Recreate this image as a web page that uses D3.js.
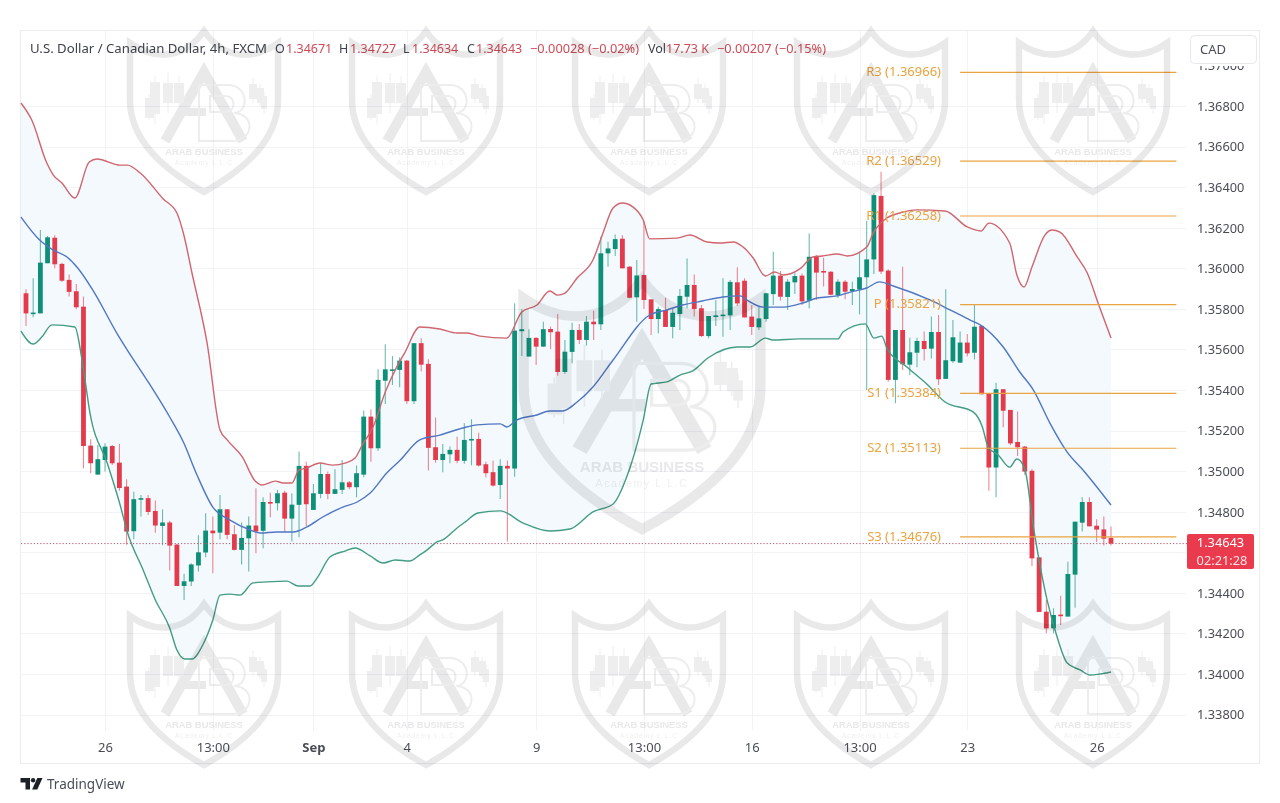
<!DOCTYPE html>
<html><head><meta charset="utf-8">
<script src="https://cdn.jsdelivr.net/npm/d3@7/dist/d3.min.js"></script>
<style>html,body{margin:0;background:#fff}svg{display:block}text{font-family:"Noto Sans",sans-serif}</style>
</head><body><div id="c"></div>
<script>
// prices are in 1e-5 units (points)
const opens=[135877,135775,135778,136025,136151,136022,135943,135887,135811,135126,134983,135055,135124,135042,134924,134704,134862,134867,134804,134730,134747,134638,134434,134456,134535,134599,134707,134697,134812,134689,134612,134669,134732,134706,134848,134842,134894,134766,134834,135026,134809,134888,134986,134888,134908,134945,134921,134983,135269,135113,135446,135497,135499,135545,135345,135631,135529,135118,135055,135083,135105,135051,135154,135159,135034,134995,134932,135026,135013,135690,135565,135657,135614,135701,135688,135489,135588,135696,135647,135737,135724,136074,136095,136146,136008,135857,135967,135847,135750,135795,135711,135775,135860,135918,135803,135666,135762,135767,135768,135931,135939,135762,135709,135750,135873,135964,135859,135931,135964,135841,136057,135987,135983,135867,135934,135888,135896,135956,136044,136357,135989,135450,135696,135525,135584,135642,135604,135686,135455,135542,135535,135634,135584,135716,135384,135018,135404,135302,135144,135121,135002,134575,134307,134225,134293,134283,134490,134746,134848,134731,134713,134671];
const highs=[135897,135951,136189,136160,136163,136028,135969,135923,135861,135157,135129,135138,135129,135134,134960,134899,134883,134883,134855,134812,134756,134641,134494,134546,134684,134793,134776,134883,134812,134735,134747,134776,134916,134871,134894,134908,134904,134891,135097,135047,134937,135039,134998,135009,135055,134952,135028,135299,135305,135502,135626,135568,135562,135548,135631,135655,135552,135264,135134,135121,135170,135236,135256,135190,135047,135052,135059,135052,135828,135798,135700,135660,135737,135713,135775,135647,135732,135726,135765,135791,136156,136131,136167,136163,136011,136041,136230,135847,135811,135855,135803,135898,136049,135970,135819,135765,135844,135951,135942,136005,135951,135819,135811,135880,136082,135987,135946,135979,135975,136172,136066,136052,135987,135946,135942,135934,136077,136235,136370,136476,135995,135696,136008,135658,135658,135688,135762,135770,135897,135745,135688,135676,135823,135721,135384,135436,135404,135302,135294,135124,135009,134575,134365,134324,134386,134554,134751,134871,134871,134763,134776,134727];
const lows=[135716,135759,135778,136025,136000,135933,135861,135798,135014,134990,134983,134998,135031,134904,134637,134664,134776,134784,134697,134635,134510,134434,134365,134434,134505,134576,134497,134664,134664,134609,134540,134505,134595,134620,134773,134806,134699,134653,134674,134730,134809,134867,134862,134888,134888,134911,134871,134970,135047,135101,135331,135425,135414,135331,135331,135491,135003,135042,134995,135039,135039,135036,135029,135023,134970,134924,134863,134653,134973,135568,135565,135524,135614,135601,135470,135479,135532,135627,135619,135647,135696,136008,136061,136000,135852,135737,135799,135671,135680,135711,135655,135696,135803,135762,135663,135655,135716,135663,135696,135814,135758,135671,135696,135737,135819,135841,135795,135873,135819,135803,135844,135910,135867,135854,135847,135819,135773,135400,135972,135972,135441,135335,135499,135474,135512,135545,135556,135425,135455,135535,135535,135565,135551,135379,134904,134871,135216,135128,135075,134981,134533,134306,134201,134201,134242,134283,134327,134702,134728,134651,134634,134634];
const closes=[135778,135782,136028,136153,136020,135939,135884,135808,135124,135039,135059,135121,135039,134917,134702,134862,134867,134799,134732,134747,134633,134434,134457,134540,134600,134707,134694,134812,134686,134612,134671,134732,134702,134848,134840,134891,134766,134835,135026,134837,134891,134986,134888,134911,134945,134921,134990,135269,135113,135450,135502,135502,135545,135345,135631,135525,135115,135055,135085,135105,135051,135154,135159,135028,134990,134929,135026,135013,135693,135700,135657,135614,135700,135685,135489,135589,135696,135647,135737,135724,136074,136098,136144,136000,135855,135965,135844,135750,135799,135711,135781,135864,135918,135799,135666,135765,135768,135772,135933,135827,135758,135711,135753,135877,135964,135860,135934,135962,135837,136057,135979,135980,135870,135934,135885,135898,135956,136044,136361,135984,135450,135696,135527,135586,135642,135602,135686,135453,135547,135660,135634,135581,135712,135379,135018,135404,135298,135137,135118,134998,134570,134306,134225,134291,134288,134493,134751,134848,134728,134712,134667,134643];

const upperBars=[-0.7,0.8,2.9,3.8,5,6.8,8.8,9.9,13.1,14.1,15.9,19.1,21,21.9,23.1,25.2,27,28,30.1,31.9,32.8,34.7,35.8,37,38,39.1,40.9,42.7,44.4,45.8,46.8,48.3,50,51.6,52.7,54.8,57.6,60,61.4,63.2,66.9,69,71.1,72.9,74,75,76.7,78.9,80.3,81.7,83,84.5,85.9,86.8,90.6,92.4,94.8,96.6,98.4,99.8,101.2,102.9,104.2,105.4,107.7,109.5,110.8,112.9,114.3,117,117.9,119.8,121.6,124,127.9,131,132.9,134,136.9,137.9,138.9,140,141.8,142.8,143.9,146.3,147.7,149.2,151];
const upperVals=[136815,136731,136519,136460,136421,136347,136524,136539,136509,136509,136470,136342,136273,136174,135977,135632,135203,135154,135070,134951,134932,134951,134942,134942,135006,135016,135040,135030,135040,135065,135129,135218,135390,135514,135583,135711,135701,135681,135681,135666,135656,135785,135819,135888,135868,135878,135952,136041,136174,136297,136322,136302,136238,136145,136149,136164,136130,136125,136130,136105,136051,135962,135982,135967,135997,136056,136061,136071,136061,136105,136174,136248,136273,136288,136283,136204,136184,136223,136125,135967,135908,136007,136164,136189,136179,136056,135977,135829,135656];
const middleBars=[-0.7,1.9,3.8,5.7,7.2,9.3,12.8,14.1,17,20,21.9,23.8,26,28.4,31.2,32.6,34.9,37.2,39.1,41.3,44.1,46.1,47.9,50.2,52.1,54.8,57.6,60.8,62.8,66,66.9,68.3,71.1,72.9,74.7,76.7,78.9,81.7,86.8,89.2,91.4,94.1,97,99.4,100.3,102.6,105.4,108.1,110.1,112.9,114.7,117,118.8,120.7,125.8,128.6,131.4,132.8,136,138.3,140.2,142.5,144.9,147.1,151];
const middleVals=[136253,136140,136090,136056,136002,135893,135671,135597,135440,135267,135144,134981,134823,134759,134710,134695,134700,134700,134725,134774,134823,134848,134892,134991,135055,135154,135178,135213,135228,135233,135218,135252,135277,135297,135297,135341,135415,135548,135770,135795,135819,135839,135859,135864,135844,135809,135809,135829,135854,135864,135883,135903,135933,135913,135844,135795,135745,135721,135612,135489,135400,135237,135094,135006,134833];
const lowerBars=[-0.7,1,2.2,3.6,6.8,7.8,8.9,11.3,13.1,14.1,16.3,18,20,21,22.1,23.1,24.6,26,27,28.4,29.8,31.6,33.5,36.3,37.9,39.5,40.6,42.3,44.4,45.8,47.9,49.7,51.4,53.4,54.8,55.8,57.2,58,60,61.1,62.9,66,69.2,72.9,75.7,78.9,81.7,83.6,85.9,87,89.2,91,92.8,94.9,99,100.8,102.9,103.9,107.7,113,113.7,116.8,118,119.1,119.8,122.6,125.5,127.9,131.8,133.1,133.9,135.3,136.9,137.9,139,140.2,142.1,143.5,144.9,146.7,148.1,149.5,151];
const lowerVals=[135691,135627,135661,135721,135711,135548,135287,135040,134833,134700,134513,134365,134227,134118,134074,134074,134143,134266,134389,134394,134389,134449,134454,134458,134434,134434,134478,134577,134606,134621,134582,134547,134562,134557,134587,134611,134651,134661,134720,134749,134794,134804,134744,134705,134715,134799,134838,134971,135252,135430,135440,135474,135494,135558,135612,135612,135656,135647,135652,135652,135686,135726,135656,135666,135607,135514,135425,135341,135292,135218,135119,135080,135020,135060,135011,134725,134365,134182,134054,134020,133995,134000,134010];

const pivotNames=["R3","R2","R1","P","S1","S2","S3"];
const pivotVals=[136966,136529,136258,135821,135384,135113,134676];
const priceTicks=[133800,134000,134200,134400,134600,134800,135000,135200,135400,135600,135800,136000,136200,136400,136600,136800,137000];
const timeBars=[11,26,40,53,71,86,101,116,131,149];
const timeLabels=["26","13:00","Sep","4","9","13:00","16","13:00","23","26"];
const lastPrice=134643;
const countdown="02:21:28";
const headerTitle="U.S. Dollar / Canadian Dollar, 4h, FXCM";

const W=1280,H=803;
const svg=d3.select("#c").append("svg").attr("width",W).attr("height",H).attr("viewBox",`0 0 ${W} ${H}`);
const x=d3.scaleLinear().domain([0,151]).range([26,1111]);
const y=d3.scaleLinear().domain([134000,137000]).range([674,65.5]);
const fmt=v=>(v/1e5).toFixed(5);
const GREEN="#0e9078",RED="#e33a4c",ORANGE="#e9a33f",TXT="#4a4d57";

// frame and grid
const clip=svg.append("defs");
clip.append("clipPath").attr("id","axisclip").append("rect").attr("x",1187).attr("y",66).attr("width",72).attr("height",666);
svg.append("rect").attr("x",20.5).attr("y",30.5).attr("width",1239).attr("height",733).attr("fill","#fff").attr("stroke","#ececf0");
const grid=svg.append("g").attr("stroke","#f1f3f8").attr("stroke-width",1);
grid.selectAll("line.h").data(priceTicks.filter(t=>t<137000)).join("line").attr("x1",21).attr("x2",1186)
 .attr("y1",d=>Math.round(y(d))+.5).attr("y2",d=>Math.round(y(d))+.5);
grid.selectAll("line.v").data(timeBars).join("line").attr("y1",31).attr("y2",731)
 .attr("x1",d=>Math.round(x(d))+.5).attr("x2",d=>Math.round(x(d))+.5);

// bands
const pts=(b,v)=>b.map((d,i)=>[d,v[i]]);
const line=d3.line().x(d=>x(d[0])).y(d=>y(d[1])).curve(d3.curveMonotoneX);
const U=pts(upperBars,upperVals),M=pts(middleBars,middleVals),L=pts(lowerBars,lowerVals);
const lineRev=d3.line().x(d=>x(d[0])).y(d=>y(d[1])).curve(d3.curveLinear);
svg.append("path").attr("d",lineRev(U.concat(L.slice().reverse()))+"Z").attr("fill","#f3f9fd");

// candles
const cand=svg.append("g");
const idx=d3.range(opens.length);
cand.selectAll("line").data(idx).join("line")
 .attr("x1",i=>x(i)).attr("x2",i=>x(i)).attr("y1",i=>y(highs[i])).attr("y2",i=>y(lows[i]))
 .attr("stroke",i=>closes[i]>=opens[i]?GREEN:RED).attr("stroke-width",1.1).attr("stroke-opacity",.6);
cand.selectAll("rect").data(idx).join("rect")
 .attr("x",i=>x(i)-2.4).attr("width",4.8)
 .attr("y",i=>y(Math.max(opens[i],closes[i])))
 .attr("height",i=>Math.max(1.6,Math.abs(y(opens[i])-y(closes[i]))))
 .attr("fill",i=>closes[i]>=opens[i]?GREEN:RED);

// band lines
const lines=[[U,"#d0656e"],[M,"#5076c4"],[L,"#439c84"]];
svg.selectAll("path.bl").data(lines).join("path").attr("class","bl").attr("fill","none")
 .attr("stroke",d=>d[1]).attr("stroke-width",1.4).attr("stroke-linejoin","round").attr("d",d=>line(d[0]));

// last price dotted line
svg.append("line").attr("x1",21).attr("x2",1187).attr("y1",y(lastPrice)).attr("y2",y(lastPrice))
 .attr("stroke","#b5596a").attr("stroke-dasharray","1.2 2").attr("stroke-width",1);

// pivots
const pv=svg.append("g");
pv.selectAll("line").data(pivotVals).join("line").attr("x1",x(130)).attr("x2",x(160.1))
 .attr("y1",d=>y(d)).attr("y2",d=>y(d)).attr("stroke",ORANGE).attr("stroke-width",1.2);
pv.selectAll("text").data(pivotVals).join("text").attr("x",941).attr("y",d=>y(d)+3.8)
 .attr("text-anchor","end").attr("fill",ORANGE).attr("font-size",13)
 .text((d,i)=>`${pivotNames[i]} (${fmt(d)})`);

// axes
const ya=svg.append("g").attr("clip-path","url(#axisclip)").append("g").attr("transform","translate(1191,0)")
 .call(d3.axisRight(y).tickValues(priceTicks).tickFormat(fmt).tickSize(0).tickPadding(6));
ya.select(".domain").remove();
ya.selectAll("text").attr("fill",TXT).attr("font-size",12.8).attr("style",'font-family:"Noto Sans",sans-serif').attr("dy",".34em");
const xa=svg.append("g").attr("transform","translate(0,739)")
 .call(d3.axisBottom(x).tickValues(timeBars).tickFormat((d,i)=>timeLabels[i]).tickSize(0).tickPadding(4));
xa.select(".domain").remove();
xa.selectAll("text").attr("fill",TXT).attr("font-size",13).attr("style",'font-family:"Noto Sans",sans-serif')
 .attr("font-weight",(d,i)=>timeLabels[i]==="Sep"?700:400);

// header
const RV="#cf4b58",HD="#3f424c";
const header=[[30,headerTitle,HD,237],[275,"O",HD],[286,fmt(opens[151]),RV],[339,"H",HD],[350,fmt(highs[151]),RV],[403,"L",HD],[412,fmt(lows[151]),RV],[467,"C",HD],[476,fmt(closes[151]),RV],[530,"−0.00028 (−0.02%)",RV,109],[648,"Vol",HD],[666,"17.73 K",RV],[717,"−0.00207 (−0.15%)",RV,109]];
svg.append("g").selectAll("text").data(header).join("text").attr("x",d=>d[0]).attr("y",52.5).attr("font-size",12.5)
 .attr("fill",d=>d[2]).text(d=>d[1]).each(function(d){if(d[3])d3.select(this).attr("textLength",d[3]).attr("lengthAdjust","spacingAndGlyphs");});

// currency button
svg.append("rect").attr("x",1190.5).attr("y",35.5).attr("width",66).attr("height",28).attr("rx",4).attr("fill","#fff").attr("stroke","#e6e8ed");
svg.append("text").attr("x",1200).attr("y",54).attr("font-size",13).attr("fill",TXT).text("CAD");

// last price tag
svg.append("rect").attr("x",1187).attr("y",534).attr("width",67).attr("height",35).attr("rx",2).attr("fill","#ea3a4e");
svg.append("text").attr("x",1220.5).attr("y",547).attr("text-anchor","middle").attr("font-size",12.8).attr("fill","#fff").text(fmt(lastPrice));
svg.append("text").attr("x",1222).attr("y",564.8).attr("text-anchor","middle").attr("font-size",12.8).attr("fill","#fde3e6").text(countdown);

// footer logo
const logo=svg.append("g").attr("transform","translate(20.5,778)").attr("fill","#1c1f26");
logo.append("path").attr("d","M0 0H9.5V11.5H5V4.5H0Z");
logo.append("circle").attr("cx",12.6).attr("cy",2.2).attr("r",2.2);
logo.append("path").attr("d","M22 0L16.8 11.5H11.6L16.8 0Z");
svg.append("text").attr("x",47).attr("y",789).attr("font-size",13.5).attr("fill","#4a4d57").text("TradingView");

// watermarks
function mark(cx,top,sx,sy){
 const g=svg.append("g").attr("transform",`translate(${cx},${top}) scale(${sx},${sy})`).style("mix-blend-mode","multiply");
 const c="#e9e9e9";
 g.append("path").attr("fill","none").attr("stroke",c).attr("stroke-width",6.5).attr("stroke-linejoin","miter")
  .attr("d","M-74 15C-50 32-20 32 0 3C20 32 50 32 74 15V72C74 112 40 142 0 164C-40 142-74 112-74 72Z");
 g.append("path").attr("fill","none").attr("stroke",c).attr("stroke-width",10).attr("d","M-39 113L0 44L39 113");
 g.append("rect").attr("x",-24).attr("y",80).attr("width",26).attr("height",8).attr("fill",c);
 g.append("path").attr("fill","none").attr("stroke","#ededed").attr("stroke-width",2)
  .attr("d","M-5 57H24C44 57 46 84 30 85C52 86 50 113 28 113H-5ZM6 68V84H22C32 84 32 68 22 68Z");
 [[-59,70,9,20],[-54,54,10,32],[-41,55,10,20],[-30,55,10,20],[45,56,8,15],[53,60,7,15],[57,68,6,13]].forEach(r=>
  g.append("rect").attr("x",r[0]).attr("y",r[1]).attr("width",r[2]).attr("height",r[3]).attr("fill","#eeeeee"));
 [[-55,66,92],[-49,48,96],[-36,45,85],[-25,48,80],[49,50,75],[56,56,78],[60,64,86]].forEach(r=>
  g.append("line").attr("x1",r[0]).attr("x2",r[0]).attr("y1",r[1]).attr("y2",r[2]).attr("stroke","#eeeeee").attr("stroke-width",1));
 g.append("text").attr("x",0).attr("y",127).attr("text-anchor","middle").attr("font-size",9.4).attr("font-weight",700)
  .attr("style",'font-family:"Liberation Sans",sans-serif').attr("fill",c).text("ARAB BUSINESS");
 g.append("text").attr("x",0).attr("y",136.5).attr("text-anchor","middle").attr("font-size",6.6).attr("letter-spacing",1)
  .attr("style",'font-family:"Liberation Sans",sans-serif').attr("fill","#efefef").text("Academy L.L.C");
}
[204,426,649,871,1093].forEach(cx=>{mark(cx,28,1,1);mark(cx,601,1,1);});
mark(642,275,1.6,1.55);
</script></body></html>
